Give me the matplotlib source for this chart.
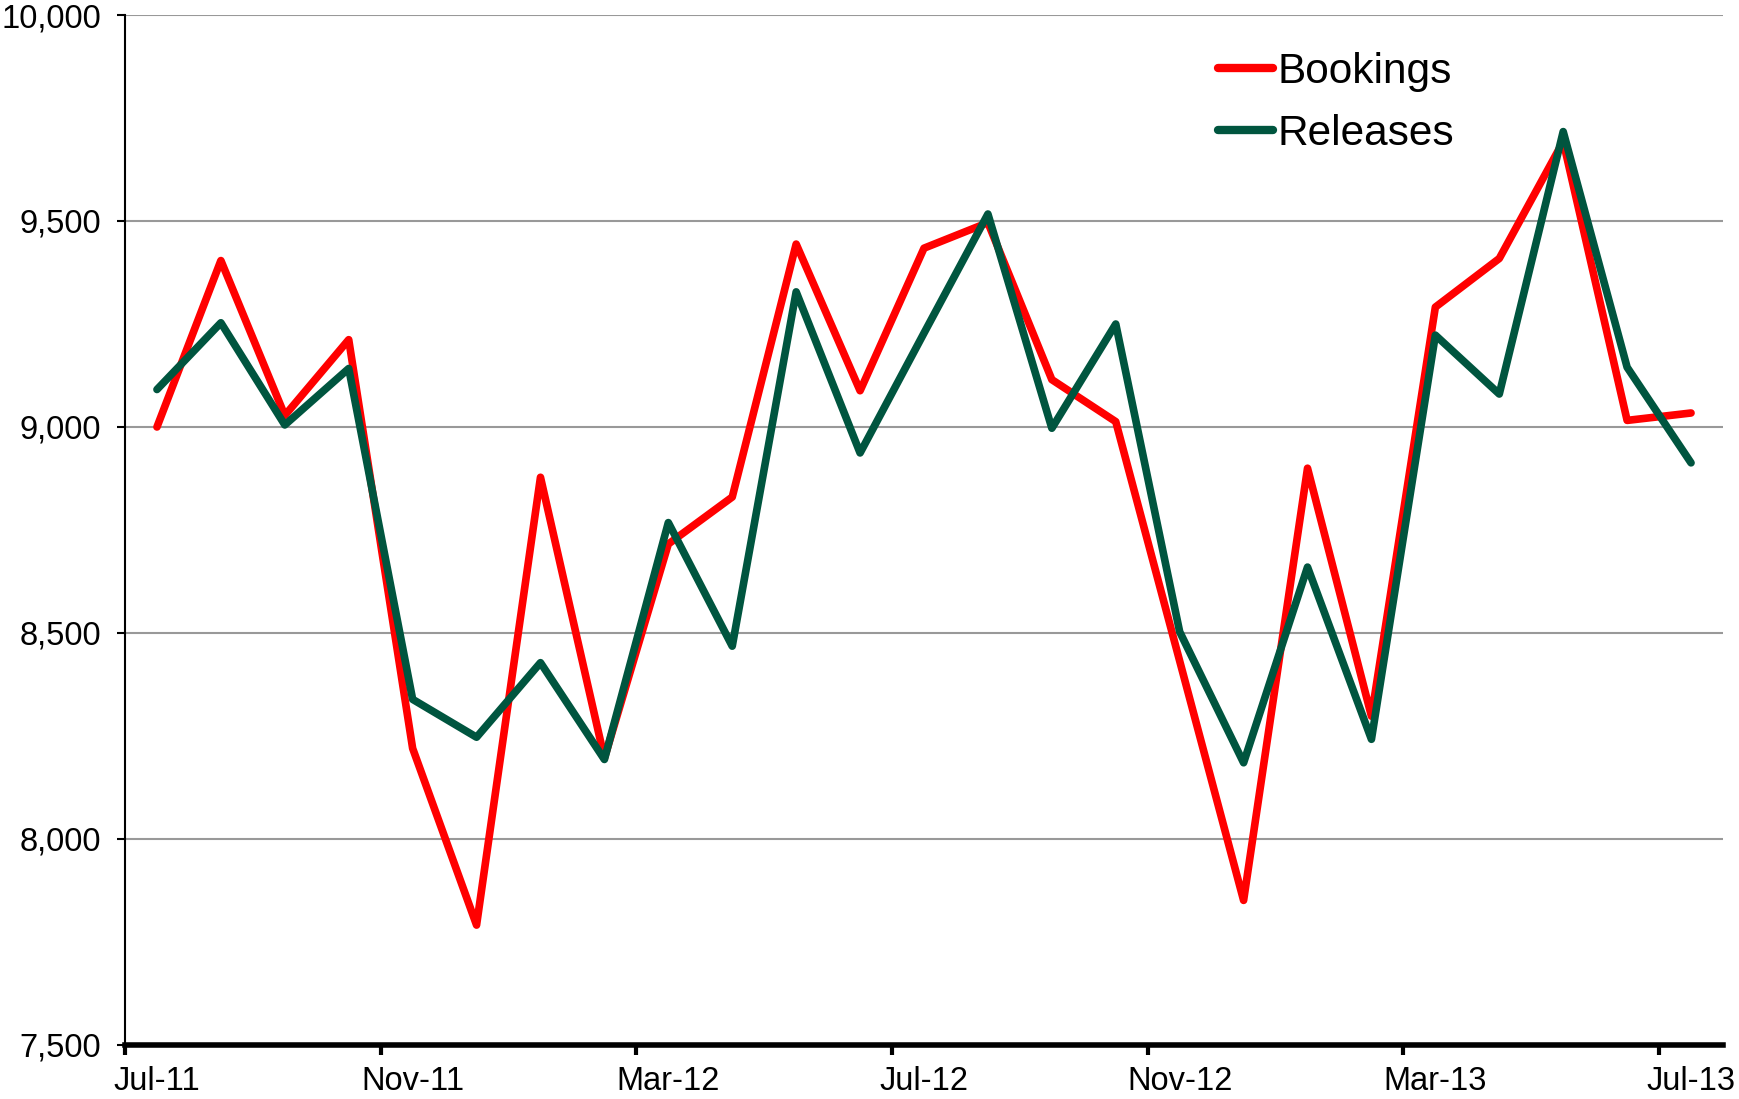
import matplotlib
matplotlib.use('Agg')
import matplotlib.pyplot as plt
from matplotlib.ticker import FuncFormatter, FixedLocator, NullFormatter

plt.rcParams['font.family'] = ['Liberation Sans', 'DejaVu Sans']

# Monthly data, Jul-11 .. Jul-13
months = ['Jul-11', 'Aug-11', 'Sep-11', 'Oct-11', 'Nov-11', 'Dec-11',
          'Jan-12', 'Feb-12', 'Mar-12', 'Apr-12', 'May-12', 'Jun-12',
          'Jul-12', 'Aug-12', 'Sep-12', 'Oct-12', 'Nov-12', 'Dec-12',
          'Jan-13', 'Feb-13', 'Mar-13', 'Apr-13', 'May-13', 'Jun-13', 'Jul-13']
bookings = [9000, 9404, 9028, 9212, 8220, 7791, 8878, 8196, 8716, 8830,
            9444, 9088, 9434, 9496, 9115, 9013, 8432, 7851, 8900, 8298,
            9291, 9409, 9693, 9016, 9034]
releases = [9091, 9253, 9005, 9142, 8339, 8247, 8428, 8193, 8768, 8468,
            9328, 8937, 9228, 9517, 8997, 9250, 8503, 8185, 8660, 8242,
            9223, 9080, 9717, 9145, 8913]

x = list(range(len(months)))

fig = plt.figure(figsize=(17.4, 10.99), dpi=100)
ax = fig.add_axes([125/1740, 1 - 1045/1099, (1723 - 125)/1740, (1045 - 15)/1099])

ax.plot(x, bookings, color='#FF0000', linewidth=5.5, label='Bookings', solid_joinstyle='round', solid_capstyle='round')
ax.plot(x, releases, color='#00553F', linewidth=5.5, label='Releases', solid_joinstyle='round', solid_capstyle='round')

ax.set_xlim(-0.5, len(months) - 0.5)
ax.set_ylim(7500, 10000)

# y axis
ax.set_yticks([7500, 8000, 8500, 9000, 9500, 10000])
ax.yaxis.set_major_formatter(FuncFormatter(lambda v, p: f'{int(v):,}'))
ax.tick_params(axis='y', direction='out', length=6, width=1.5, labelsize=23.5, pad=11)
ax.yaxis.grid(True, color='#999999', linewidth=1.5)
ax.set_axisbelow(True)

# x axis: ticks at category boundaries, labels every 4 months
ax.xaxis.set_major_locator(FixedLocator([i - 0.5 for i in range(0, len(months), 4)]))
ax.xaxis.set_major_formatter(NullFormatter())
ax.xaxis.set_minor_locator(FixedLocator(list(range(0, len(months), 4))))
ax.set_xticklabels([months[i] for i in range(0, len(months), 4)], minor=True)
ax.tick_params(axis='x', which='major', direction='out', length=7, width=3)
ax.tick_params(axis='x', which='minor', length=0, labelsize=23.5, pad=15)

for s in ['top', 'right']:
    ax.spines[s].set_visible(False)
ax.spines['left'].set_linewidth(1.5)
ax.spines['bottom'].set_linewidth(4)

leg = ax.legend(loc='upper left', bbox_to_anchor=(1218/1740, 1 - 52/1099),
                bbox_transform=fig.transFigure, frameon=False, fontsize=30.5,
                handlelength=1.3, handletextpad=0.1, labelspacing=0.52,
                borderpad=0, borderaxespad=0)
for h in leg.get_lines():
    h.set_linewidth(6)

fig.savefig('out.png', dpi=100)
